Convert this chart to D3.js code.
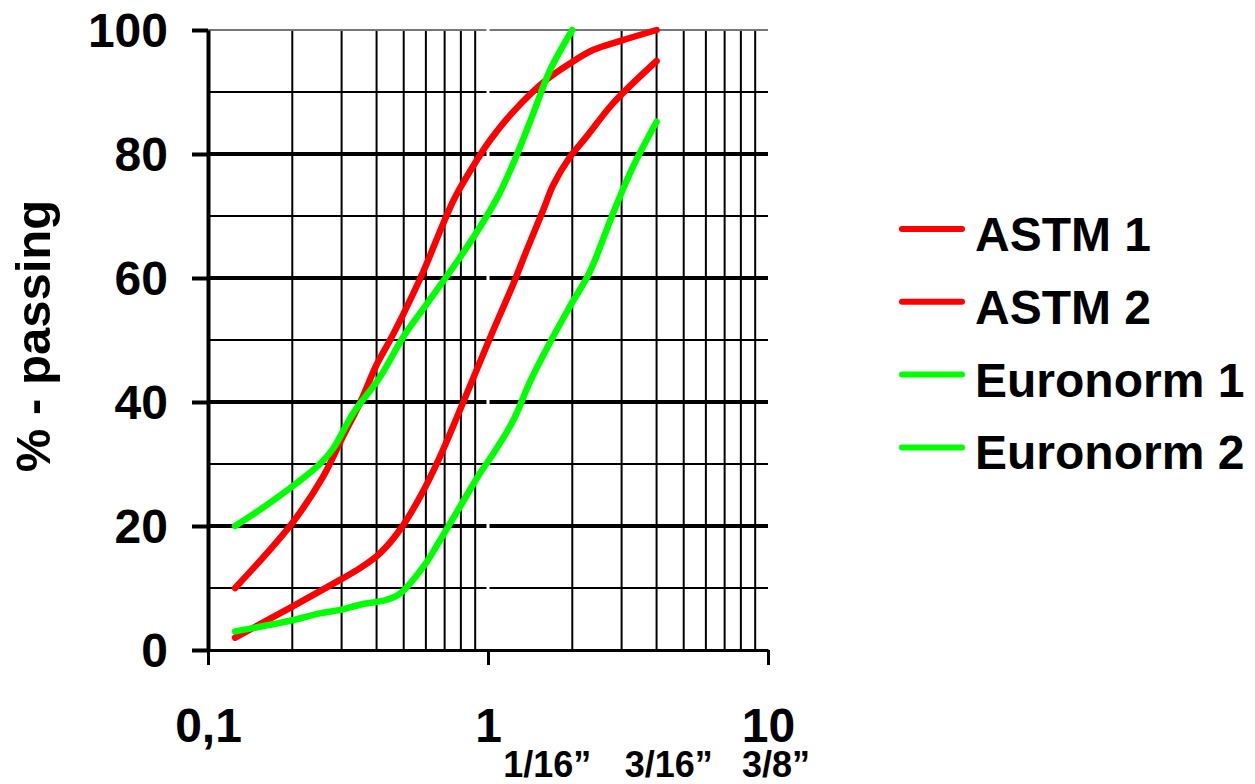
<!DOCTYPE html>
<html>
<head>
<meta charset="utf-8">
<script src="https://cdn.jsdelivr.net/npm/d3@7"></script>
<style>
  body { margin: 0; background: #fff; }
  svg text { font-family: "Liberation Sans", Arial, sans-serif; font-weight: bold; fill: #000; }
</style>
</head>
<body>
<script>
(function(){
  //grain size (mm) and % passing
  const astm1Size = [0.125, 0.2, 0.258, 0.3, 0.35, 0.4, 0.447, 0.5, 0.587, 0.692, 0.762, 0.912, 1.02, 1.23, 1.62, 1.96, 2.38, 3.0, 4];
  const astm1Pass = [10, 20.5, 28, 34, 40, 46, 50, 54.3, 61, 68.8, 73, 79, 82.3, 86.8, 92, 94.6, 96.8, 98.3, 100];

  const astm2Size = [0.125, 0.2, 0.296, 0.349, 0.411, 0.485, 0.572, 0.674, 0.794, 1.02, 1.23, 1.375, 1.576, 1.71, 1.96, 2.25, 2.8, 4];
  const astm2Pass = [2, 7, 11.3, 13.2, 15.6, 19.4, 24.7, 31.2, 38.7, 50.5, 59, 64.5, 71, 75, 79.5, 82.8, 88.2, 95];

  const euro1Size = [0.125, 0.153, 0.207, 0.251, 0.28, 0.33, 0.411, 0.5, 0.604, 0.794, 0.99, 1.104, 1.266, 1.452, 1.665, 2];
  const euro1Pass = [20, 22.6, 26.9, 30, 32.5, 38.2, 44, 50.6, 55.8, 63.3, 70, 73.8, 79.8, 86.6, 93.5, 100];

  const euro2Size = [0.125, 0.2, 0.251, 0.3, 0.349, 0.435, 0.485, 0.587, 0.674, 0.794, 0.936, 1.045, 1.23, 1.413, 1.62, 1.96, 2.31, 2.8, 3.3, 4];
  const euro2Pass = [3, 4.8, 5.9, 6.5, 7.3, 8.1, 9.1, 13.4, 17.7, 23.1, 28.5, 31.7, 37, 43.3, 48.6, 55.4, 61, 70.5, 78, 85.2];

  const seriesNames = ["ASTM 1", "ASTM 2", "Euronorm 1", "Euronorm 2"];
  const seriesColors = ["#ff0000", "#ff0000", "#00ff00", "#00ff00"];

  const yTicks = [0, 20, 40, 60, 80, 100];
  const yMinor = [10, 30, 50, 70, 90];
  const xTicks = [0.1, 1, 10];
  const xTickLabels = ["0,1", "1", "10"];
  const sieveSize = [1.5875, 4.7625, 9.525];
  const sieveLabels = ["1/16\u201D", "3/16\u201D", "3/8\u201D"];

  //chart frame
  const width = 1255, height = 784;
  const left = 208, right = 768, top = 30, bottom = 650;

  const x = d3.scaleLog().domain([0.1, 10]).range([left, right]);
  const y = d3.scaleLinear().domain([0, 100]).range([bottom, top]);

  const svg = d3.select("body").append("svg")
    .attr("width", width)
    .attr("height", height);

  //minor vertical grid (2..9 of each decade)
  const xMinor = [];
  [0.1, 1].forEach(function(dec){
    for (let k = 2; k <= 9; k++) xMinor.push(dec * k);
  });

  const grid = svg.append("g").attr("class", "grid");

  grid.selectAll(".vgrid")
    .data(xMinor)
    .enter().append("line")
    .attr("x1", d => x(d)).attr("x2", d => x(d))
    .attr("y1", top).attr("y2", bottom)
    .attr("stroke", "#000").attr("stroke-width", 2);

  grid.selectAll(".hminor")
    .data(yMinor)
    .enter().append("line")
    .attr("x1", left).attr("x2", right)
    .attr("y1", d => y(d)).attr("y2", d => y(d))
    .attr("stroke", "#000").attr("stroke-width", 2);

  grid.selectAll(".hmajor")
    .data(yTicks.filter(d => d > 0 && d < 100))
    .enter().append("line")
    .attr("x1", left).attr("x2", right)
    .attr("y1", d => y(d)).attr("y2", d => y(d))
    .attr("stroke", "#000").attr("stroke-width", 4);

  //top border is a thin grey line
  grid.append("line")
    .attr("x1", left).attr("x2", right)
    .attr("y1", y(100)).attr("y2", y(100))
    .attr("stroke", "#777").attr("stroke-width", 2);

  //the gridline at 1 mm is white in the original
  grid.append("line")
    .attr("x1", x(1)).attr("x2", x(1))
    .attr("y1", top - 2).attr("y2", bottom - 2)
    .attr("stroke", "#fff").attr("stroke-width", 3);

  //axes
  const yAxis = d3.axisLeft(y)
    .tickValues(yTicks)
    .tickSize(16)
    .tickSizeOuter(0)
    .tickPadding(24);

  const yG = svg.append("g")
    .attr("transform", "translate(" + left + ",0)")
    .call(yAxis);
  yG.select(".domain").attr("stroke-width", 4);
  yG.selectAll(".tick line").attr("stroke-width", 4);
  yG.selectAll(".tick text")
    .attr("font-size", 48)
    .attr("dy", "0.35em")
    .attr("font-family", null);

  const xAxis = d3.axisBottom(x)
    .tickValues(xTicks)
    .tickFormat((d, i) => xTickLabels[i])
    .tickSize(15)
    .tickSizeOuter(0)
    .tickPadding(43);

  const xG = svg.append("g")
    .attr("transform", "translate(0," + bottom + ")")
    .call(xAxis);
  xG.select(".domain").attr("stroke-width", 3);
  xG.selectAll(".tick line").attr("stroke-width", 3);
  xG.selectAll(".tick text")
    .attr("font-size", 48)
    .attr("font-family", null);

  //sieve sizes in inches under the axis, nudged like the original text boxes
  const sieveNudge = [3, -9, 14];
  svg.selectAll(".sieve")
    .data(sieveLabels)
    .enter().append("text")
    .attr("class", "sieve")
    .attr("x", (d, i) => x(sieveSize[i]) + sieveNudge[i])
    .attr("y", 777)
    .attr("text-anchor", "middle")
    .attr("font-size", 36)
    .text(d => d);

  //y title
  svg.append("text")
    .attr("transform", "translate(50," + 336 + ") rotate(-90)")
    .attr("text-anchor", "middle")
    .attr("font-size", 49)
    .text("% - passing");

  //curves
  const series = [
    {name: seriesNames[0], size: astm1Size, pass: astm1Pass},
    {name: seriesNames[1], size: astm2Size, pass: astm2Pass},
    {name: seriesNames[2], size: euro1Size, pass: euro1Pass},
    {name: seriesNames[3], size: euro2Size, pass: euro2Pass}
  ];

  const line = d3.line()
    .x(d => x(d[0]))
    .y(d => y(d[1]))
    .curve(d3.curveCatmullRom.alpha(0.5));

  svg.selectAll(".curve")
    .data(series)
    .enter().append("path")
    .attr("class", "curve")
    .attr("d", d => line(d.size.map((s, i) => [s, d.pass[i]])))
    .attr("fill", "none")
    .attr("stroke", (d, i) => seriesColors[i])
    .attr("stroke-width", 6.5)
    .attr("stroke-linecap", "round")
    .attr("stroke-linejoin", "round");

  //legend
  const legend = svg.append("g")
    .attr("transform", "translate(900,229)");

  const rows = legend.selectAll(".row")
    .data(seriesNames)
    .enter().append("g")
    .attr("transform", (d, i) => "translate(0," + i * 72.8 + ")");

  rows.append("line")
    .attr("x1", 2).attr("x2", 62)
    .attr("stroke", (d, i) => seriesColors[i])
    .attr("stroke-width", 6)
    .attr("stroke-linecap", "round");

  rows.append("text")
    .attr("x", 75)
    .attr("y", 22)
    .attr("font-size", 48)
    .text(d => d);
})();
</script>
</body>
</html>
